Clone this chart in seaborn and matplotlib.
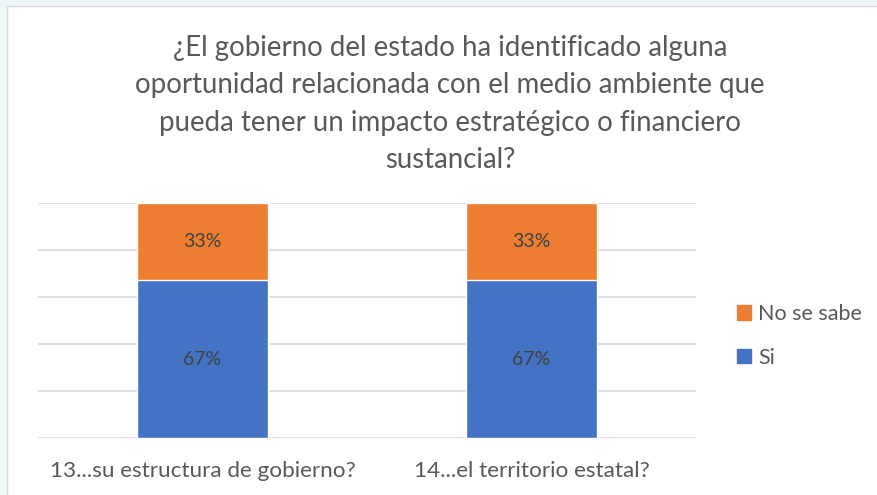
import matplotlib
matplotlib.use("Agg")
import matplotlib.pyplot as plt
import matplotlib.patches as mpatches
import seaborn as sns
import pandas as pd

categories = ['13...su estructura de gobierno?', '14...el territorio estatal?']
si = [0.67, 0.67]
no_se_sabe = [0.33, 0.33]
title = ('¿El gobierno del estado ha identificado alguna\n'
         'oportunidad relacionada con el medio ambiente que\n'
         'pueda tener un impacto estratégico o financiero\n'
         'sustancial?')

BLUE = '#4472C4'
ORANGE = '#ED7D31'
GRAY = '#595959'

sns.set_theme(style='white')
plt.rcParams['font.family'] = ['Lato', 'DejaVu Sans']

df = pd.DataFrame({'cat': categories, 'si': si, 'no': no_se_sabe})
df['total'] = df['si'] + df['no']

fig = plt.figure(figsize=(8.78, 4.95), dpi=100)
# slide background + chart frame
fig.patch.set_facecolor('white')
fig.patches.append(mpatches.Rectangle((0, 0), 1, 1, transform=fig.transFigure,
                                      facecolor='#EEF6F8', edgecolor='none', zorder=-3))
fig.patches.append(mpatches.Rectangle((7 / 878, -0.01), 1, 1 - 6 / 495 + 0.01,
                                      transform=fig.transFigure, facecolor='white',
                                      edgecolor='#D9D9D9', linewidth=1, zorder=-2))

ax = fig.add_axes([38 / 878, 1 - 438.3 / 495, (696 - 38) / 878, (438.3 - 202.7) / 495])
ax.set_facecolor('none')

sns.barplot(data=df, x='cat', y='total', color=ORANGE, width=0.4, ax=ax,
            saturation=1, zorder=2)
sns.barplot(data=df, x='cat', y='si', color=BLUE, width=0.4, ax=ax,
            saturation=1, zorder=3)

for i, (s, n) in enumerate(zip(si, no_se_sabe)):
    ax.text(i, s / 2, f'{s:.0%}', ha='center', va='center', fontsize=14,
            color='#404040', zorder=4)
    ax.text(i, s + n / 2, f'{n:.0%}', ha='center', va='center', fontsize=14,
            color='#404040', zorder=4)

ax.set_ylim(0, 1)
ax.set_xlim(-0.5, 1.5)
ax.set_yticks([0, 0.2, 0.4, 0.6, 0.8, 1.0])
ax.yaxis.grid(True, color='#D9D9D9', linewidth=1.2, zorder=0)
ax.set_axisbelow(True)
ax.tick_params(axis='y', left=False, labelleft=False)
ax.tick_params(axis='x', bottom=False, labelsize=16.2, colors=GRAY, pad=10)
ax.set_xlabel('')
ax.set_ylabel('')
for sp in ax.spines.values():
    sp.set_visible(False)

fig.text(0.5125, 0.79, title, ha='center', va='center', fontsize=19.9,
         color=GRAY, linespacing=1.55)

handles = [mpatches.Patch(color=ORANGE, label='No se sabe'),
           mpatches.Patch(color=BLUE, label='Si')]
fig.legend(handles=handles, loc='center left', bbox_to_anchor=(718 / 878, 1 - 336 / 495),
           frameon=False, fontsize=15.5, labelcolor=GRAY, handlelength=0.65,
           handleheight=0.65, handletextpad=0.3, labelspacing=1.1)

fig.savefig('out.png', dpi=100)
